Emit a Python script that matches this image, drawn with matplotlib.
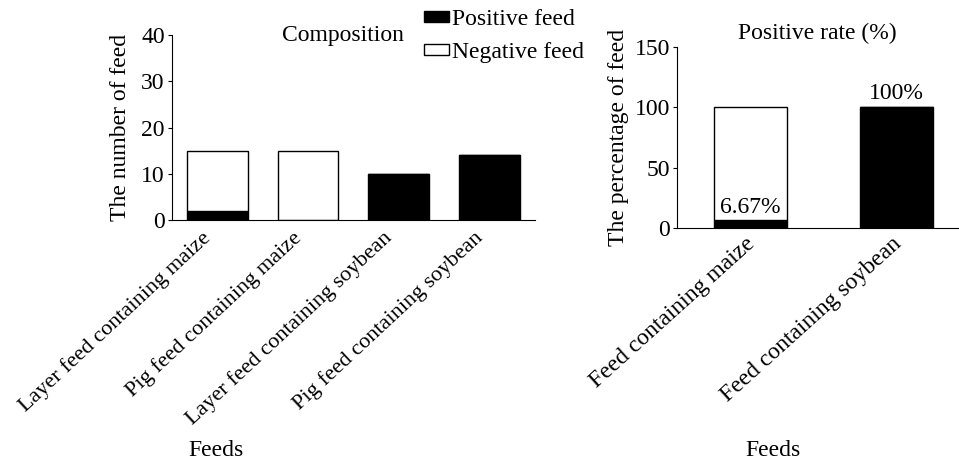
import numpy as np
import matplotlib.pyplot as plt
from matplotlib.transforms import ScaledTranslation

plt.rcParams['font.family'] = ['Liberation Serif', 'DejaVu Serif']
plt.rcParams['font.size'] = 17

# composition of feeds (counts)
feeds = ["Layer feed containing maize", "Pig feed containing maize",
         "Layer feed containing soybean", "Pig feed containing soybean"]
positive = [2, 0, 10, 14]
negative = [13, 15, 0, 0]

# positive rate (%)
groups = ["Feed containing maize", "Feed containing soybean"]
rate_pos = [6.67, 100]
rate_neg = [93.33, 0]
rate_labels = ["6.67%", "100%"]

fig = plt.figure(figsize=(9.59, 4.63), dpi=100)


def shift_labels(ax, dx, dy=0):
    # move the rotated tick labels by dx, dy pixels
    off = ScaledTranslation(dx / 100, dy / 100, fig.dpi_scale_trans)
    for lab in ax.get_xticklabels():
        lab.set_transform(lab.get_transform() + off)


# left panel
ax1 = fig.add_axes([0.179, 0.525, 0.379, 0.399])
x1 = np.arange(len(feeds))
ax1.bar(x1, positive, width=0.67, color='black', edgecolor='black',
        linewidth=1, label='Positive feed')
ax1.bar(x1, negative, width=0.67, bottom=positive, color='white',
        edgecolor='black', linewidth=1, label='Negative feed')
ax1.set_xlim(-0.5, 3.5)
ax1.set_ylim(0, 40)
ax1.set_yticks([0, 10, 20, 30, 40])
ax1.set_xticks(x1)
ax1.set_xticklabels(feeds, rotation=43, ha='right', va='top',
                    rotation_mode='anchor', fontsize=16)
ax1.tick_params(axis='x', length=0, pad=6)
ax1.tick_params(axis='y', direction='out', length=3, pad=2)
ax1.spines['top'].set_visible(False)
ax1.spines['right'].set_visible(False)
ax1.set_ylabel("The number of feed", labelpad=7)
ax1.text(0.47, 1.0, "Composition", transform=ax1.transAxes,
         ha='center', va='center')
shift_labels(ax1, -16)
fig.legend(*ax1.get_legend_handles_labels(), loc='upper left',
           bbox_to_anchor=(424 / 959, 1 - 9 / 463), frameon=False,
           handlelength=1.05, handleheight=0.3, handletextpad=0.12,
           labelspacing=0.5, borderaxespad=0, borderpad=0)

# right panel
ax2 = fig.add_axes([0.706, 0.5076, 0.294, 0.391])
x2 = np.arange(len(groups))
ax2.bar(x2, rate_pos, width=0.5, color='black', edgecolor='black',
        linewidth=1)
ax2.bar(x2, rate_neg, width=0.5, bottom=rate_pos, color='white',
        edgecolor='black', linewidth=1)
ax2.set_xlim(-0.5, 1.43)
ax2.set_ylim(0, 150)
ax2.set_yticks([0, 50, 100, 150])
ax2.set_xticks(x2)
ax2.set_xticklabels(groups, rotation=42, ha='right', va='top',
                    rotation_mode='anchor')
ax2.tick_params(axis='x', length=0, pad=4)
ax2.tick_params(axis='y', direction='out', length=3, pad=2)
ax2.spines['top'].set_visible(False)
ax2.spines['right'].set_visible(False)
ax2.set_ylabel("The percentage of feed", labelpad=4)
ax2.text(0.496, 1.077, "Positive rate (%)", transform=ax2.transAxes,
         ha='center', va='center')
ax2.text(x2[0], 12.4, rate_labels[0], ha='center', va='baseline')
ax2.text(x2[1], 106.9, rate_labels[1], ha='center', va='baseline')
shift_labels(ax2, -5)

fig.text(216 / 959, 1 - 450 / 463, "Feeds", ha='center', va='center')
fig.text(773 / 959, 1 - 450 / 463, "Feeds", ha='center', va='center')

fig.savefig("out.png", dpi=100)
